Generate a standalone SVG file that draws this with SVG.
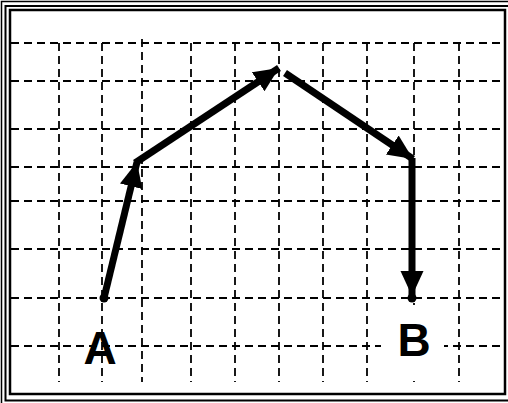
<svg xmlns="http://www.w3.org/2000/svg" width="508" height="403" viewBox="0 0 508 403">
<style>
.frame{fill:none;stroke:#000}
.grid line{stroke:#000;stroke-width:1.8;stroke-dasharray:8 5}
.arrow{stroke:#000;stroke-width:7;fill:none;stroke-linecap:butt}
.lbl{font-family:"Liberation Sans",Arial,sans-serif;font-weight:bold;font-size:46px;fill:#000;text-anchor:middle}
</style>
<defs>
<marker id="head" markerUnits="userSpaceOnUse" markerWidth="27" markerHeight="25" refX="25" refY="11.5" orient="auto">
<path d="M0,0 L25,11.5 L0,23 z" fill="#000"/>
</marker>
</defs>
<rect width="508" height="403" fill="#fff"/>
<g id="frame">
<rect class="frame" x="1.5" y="1.5" width="520" height="420" stroke-width="1.5"/>
<rect class="frame" x="5.5" y="6" width="515" height="394.5" stroke-width="2"/>
<rect class="frame" x="10" y="10" width="495" height="384" stroke-width="2.5"/>
</g>
<g id="grid" class="grid">
<line x1="11" y1="43" x2="505" y2="43"/>
<line x1="11" y1="81" x2="505" y2="81"/>
<line x1="11" y1="129" x2="505" y2="129"/>
<line x1="11" y1="167" x2="505" y2="167"/>
<line x1="11" y1="201" x2="505" y2="201"/>
<line x1="11" y1="249" x2="505" y2="249"/>
<line x1="11" y1="298" x2="505" y2="298"/>
<line x1="11" y1="346" x2="505" y2="346"/>
<line x1="59" y1="43" x2="59" y2="382"/>
<line x1="102" y1="43" x2="102" y2="382"/>
<line x1="142" y1="39" x2="142" y2="382"/>
<line x1="191" y1="43" x2="191" y2="382"/>
<line x1="235" y1="43" x2="235" y2="382"/>
<line x1="279" y1="43" x2="279" y2="382"/>
<line x1="323" y1="43" x2="323" y2="382"/>
<line x1="367" y1="43" x2="367" y2="382"/>
<line x1="414" y1="43" x2="414" y2="382"/>
<line x1="459" y1="43" x2="459" y2="382"/>
</g>
<rect x="381" y="305" width="63" height="73" fill="#fff"/>
<g id="connectors">
<line class="arrow" x1="104" y1="298" x2="137" y2="162" marker-end="url(#head)"/>
<line class="arrow" x1="135" y1="163" x2="279" y2="68" marker-end="url(#head)"/>
<line class="arrow" x1="285" y1="73" x2="413" y2="159" marker-end="url(#head)"/>
<line class="arrow" x1="412" y1="158" x2="412" y2="296" marker-end="url(#head)"/>
</g>
<g id="nodeA">
<circle cx="104" cy="298" r="4.5" fill="#000"/>
<text class="lbl" x="100" y="364">A</text>
</g>
<g id="nodeB">
<circle cx="412" cy="298" r="4.5" fill="#000"/>
<text class="lbl" x="414" y="356">B</text>
</g>
</svg>
